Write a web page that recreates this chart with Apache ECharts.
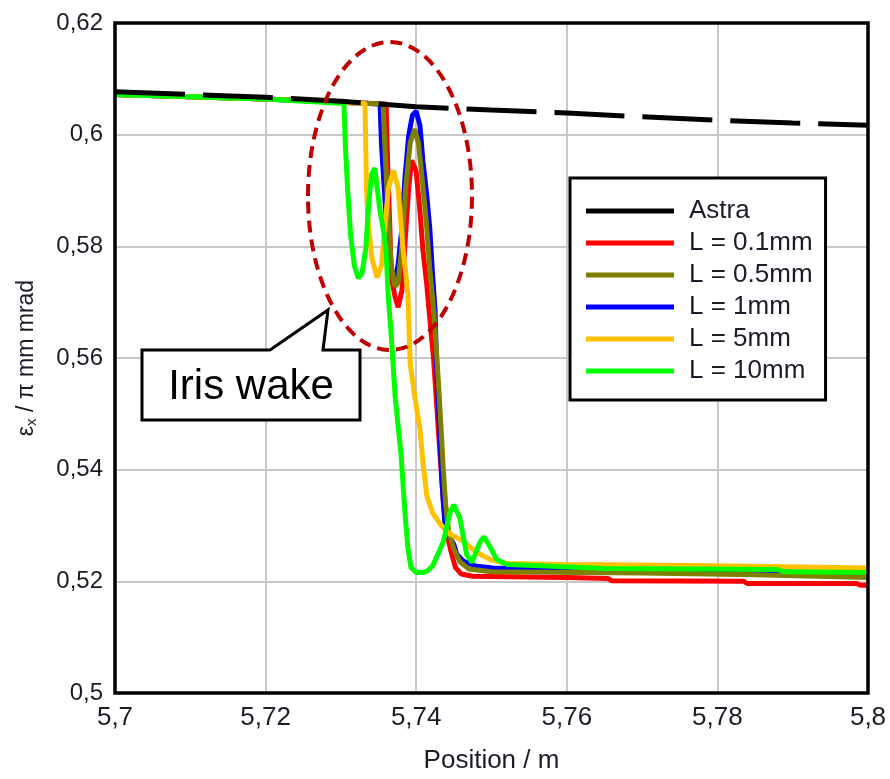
<!DOCTYPE html>
<html>
<head>
<meta charset="utf-8">
<script src="https://cdn.jsdelivr.net/npm/echarts@6/dist/echarts.min.js"></script>
<style>
html,body{margin:0;padding:0;background:#fff;}
#chart{width:890px;height:779px;}
</style>
</head>
<body>
<div id="chart"></div>
<script>
// ---- data (position in m, emittance in pi mm mrad) ----
const seriesNames = ['Astra', 'L = 0.1mm', 'L = 0.5mm', 'L = 1mm', 'L = 5mm', 'L = 10mm'];
const xTicks = [5.7, 5.72, 5.74, 5.76, 5.78, 5.8];
const yTicks = [0.5, 0.52, 0.54, 0.56, 0.58, 0.6, 0.62];

const astra = [[5.700,0.6077],[5.710,0.6072],[5.720,0.6067],[5.730,0.6060],[5.740,0.6050],[5.750,0.6044],
  [5.760,0.6039],[5.770,0.6032],[5.780,0.6026],[5.790,0.6021],[5.800,0.6017]];

const l01 = [[5.700,0.6072],[5.710,0.6068],[5.720,0.6064],[5.730,0.6058],[5.7360,0.6055],[5.7362,0.5952],
  [5.7365,0.5833],[5.7367,0.5744],[5.7372,0.5709],[5.7376,0.5691],[5.7381,0.5721],[5.7385,0.5803],
  [5.7390,0.5904],[5.7394,0.5954],[5.7396,0.5957],[5.7400,0.5934],[5.7405,0.5863],[5.7409,0.5792],
  [5.7414,0.5732],[5.7417,0.5686],[5.7423,0.5600],[5.7428,0.5500],[5.7432,0.5420],[5.7436,0.5345],
  [5.7440,0.5290],[5.7446,0.5255],[5.7452,0.5225],[5.7460,0.5213],[5.7475,0.5209],[5.7600,0.5207],
  [5.7655,0.5205],[5.7660,0.5201],[5.7835,0.5200],[5.7840,0.5196],[5.7985,0.5196],[5.7990,0.5193],[5.8000,0.5193]];

const l05 = [[5.700,0.6072],[5.710,0.6068],[5.720,0.6064],[5.730,0.6058],[5.7356,0.6055],[5.7359,0.5960],
  [5.7363,0.5850],[5.7367,0.5765],[5.7372,0.5728],[5.7376,0.5735],[5.7381,0.5800],[5.7386,0.5905],
  [5.7392,0.5985],[5.7398,0.6010],[5.7403,0.5985],[5.7408,0.5920],[5.7413,0.5850],[5.7418,0.5760],
  [5.7423,0.5690],[5.7428,0.5590],[5.7432,0.5500],[5.7436,0.5400],[5.7439,0.5340],[5.7443,0.5290],
  [5.7450,0.5258],[5.7458,0.5235],[5.7470,0.5222],[5.7500,0.5217],[5.7700,0.5215],[5.7850,0.5212],[5.8000,0.5207]];

const l1 = [[5.700,0.6072],[5.710,0.6068],[5.720,0.6064],[5.730,0.6058],[5.7352,0.6055],[5.7354,0.5980],
  [5.7359,0.5874],[5.7362,0.5815],[5.7367,0.5757],[5.7372,0.5741],[5.7376,0.5767],[5.7381,0.5833],
  [5.7385,0.5922],[5.7390,0.5998],[5.7395,0.6035],[5.7400,0.6042],[5.7405,0.6016],[5.7409,0.5952],
  [5.7414,0.5892],[5.7418,0.5833],[5.7422,0.5744],[5.7425,0.5686],[5.7427,0.5590],[5.7429,0.5532],
  [5.7432,0.5443],[5.7434,0.5384],[5.7436,0.5342],[5.7438,0.5306],[5.7443,0.5283],[5.7450,0.5266],
  [5.7454,0.5248],[5.7463,0.5236],[5.7480,0.5227],[5.7502,0.5224],[5.7700,0.5220],[5.8000,0.5215]];

const l5 = [[5.700,0.6072],[5.710,0.6068],[5.720,0.6064],[5.730,0.6058],[5.7332,0.6056],[5.7334,0.5904],
  [5.7336,0.5845],[5.7341,0.5780],[5.7348,0.5744],[5.7354,0.5767],[5.7363,0.5904],[5.7370,0.5936],
  [5.7376,0.5904],[5.7382,0.5803],[5.7389,0.5714],[5.7392,0.5590],[5.7398,0.5532],[5.7405,0.5473],
  [5.7409,0.5413],[5.7414,0.5354],[5.7422,0.5322],[5.7432,0.5302],[5.7445,0.5285],[5.7462,0.5272],
  [5.7480,0.5252],[5.7500,0.5238],[5.7520,0.5232],[5.7600,0.5230],[5.7800,0.5228],[5.8000,0.5224]];

const l10 = [[5.700,0.6072],[5.710,0.6068],[5.720,0.6064],[5.7304,0.6056],[5.7306,0.5980],[5.7309,0.5900],
  [5.7313,0.5818],[5.7318,0.5765],[5.7323,0.5743],[5.7328,0.5752],[5.7333,0.5795],[5.7337,0.5878],
  [5.7341,0.5930],[5.7345,0.5940],[5.7349,0.5895],[5.7352,0.5863],[5.7357,0.5825],[5.7360,0.5790],
  [5.7363,0.5709],[5.7367,0.5638],[5.7372,0.5532],[5.7380,0.5425],[5.7385,0.5324],[5.7389,0.5260],
  [5.7393,0.5225],[5.7400,0.5216],[5.7410,0.5216],[5.7416,0.5220],[5.7422,0.5228],[5.7436,0.5271],
  [5.7445,0.5324],[5.7450,0.5337],[5.7458,0.5313],[5.7467,0.5248],[5.7474,0.5234],[5.7485,0.5271],
  [5.7490,0.5280],[5.7498,0.5262],[5.7507,0.5239],[5.7521,0.5230],[5.7564,0.5228],[5.7650,0.5223],
  [5.7880,0.5221],[5.7890,0.5217],[5.8000,0.5216]];

// ---- chart ----
const fmt = v => parseFloat(v.toFixed(4)).toString().replace('.', ',');
const chart = echarts.init(document.getElementById('chart'), null, {renderer: 'canvas'});
const lineW = 5;
const txt = '#1c1c28';
function mk(name, data, color, z, extra) {
  return Object.assign({
    name: name, type: 'line', data: data, showSymbol: false, symbol: 'none',
    z: z, color: color, lineStyle: {color: color, width: lineW}, animation: false
  }, extra || {});
}
const option = {
  animation: false,
  backgroundColor: '#fff',
  grid: {left: 115, right: 22, top: 23, bottom: 79, show: true, borderColor: '#000', borderWidth: 3.5, backgroundColor: 'transparent', z: 10},
  xAxis: {
    type: 'value', min: xTicks[0], max: xTicks[xTicks.length - 1], interval: 0.02,
    axisLine: {show: false}, axisTick: {show: false},
    splitLine: {show: true, lineStyle: {color: '#c8c8c8', width: 2}},
    axisLabel: {formatter: fmt, fontSize: 26, fontFamily: 'Liberation Sans, Arial', color: txt, margin: 12},
    name: 'Position / m', nameLocation: 'middle', nameGap: 55,
    nameTextStyle: {fontSize: 26, fontFamily: 'Liberation Sans, Arial', color: txt}
  },
  yAxis: {
    type: 'value', min: yTicks[0], max: yTicks[yTicks.length - 1], interval: 0.02,
    axisLine: {show: false}, axisTick: {show: false},
    splitLine: {show: true, lineStyle: {color: '#c8c8c8', width: 2}},
    axisLabel: {formatter: fmt, fontSize: 24, fontFamily: 'Liberation Sans, Arial', color: txt, margin: 12},
    name: '{a|ε}{b|x}{a| / π mm mrad}', nameLocation: 'middle', nameGap: 76, nameRotate: 90,
    nameTextStyle: {rich: {
      a: {fontSize: 23, fontFamily: 'Liberation Sans, Arial', color: txt},
      b: {fontSize: 15, fontFamily: 'Liberation Sans, Arial', color: txt, verticalAlign: 'bottom', padding: [10, 0, 0, 0]}
    }}
  },
  legend: {
    orient: 'vertical', left: 570, top: 178, data: seriesNames,
    icon: 'rect', itemWidth: 88, itemHeight: 5, itemGap: 6,
    backgroundColor: '#fff', borderColor: '#000', borderWidth: 3,
    padding: [20, 13, 16, 16],
    textStyle: {fontSize: 26, lineHeight: 26, fontFamily: 'Liberation Sans, Arial', color: txt, padding: [0, 0, 0, 10]},
    selectedMode: false
  },
  series: [
    mk(seriesNames[1], l01, '#ff0000', 2),
    mk(seriesNames[3], l1, '#0000ff', 3),
    mk(seriesNames[2], l05, '#808000', 4),
    mk(seriesNames[4], l5, '#ffc000', 5),
    mk(seriesNames[5], l10, '#00ff00', 6),
    mk(seriesNames[0], astra, '#000000', 7, {lineStyle: {color: '#000', width: 5, type: [70, 18]}})
  ],
  graphic: [
    {type: 'ellipse', z: 100, shape: {cx: 390, cy: 196, rx: 82, ry: 154},
     style: {fill: 'none', stroke: '#c00000', lineWidth: 4, lineDash: [12, 7]}},
    {type: 'polygon', z: 100, shape: {points: [[142,350],[270,350],[328,310],[323,350],[360,350],[360,420],[142,420]]},
     style: {fill: '#fff', stroke: '#000', lineWidth: 3}},
    {type: 'text', z: 101, x: 251, y: 387,
     style: {text: 'Iris wake', fontSize: 42, fontFamily: 'Liberation Sans, Arial', fill: '#000', align: 'center', verticalAlign: 'middle'}}
  ]
};
chart.setOption(option);
</script>
</body>
</html>
